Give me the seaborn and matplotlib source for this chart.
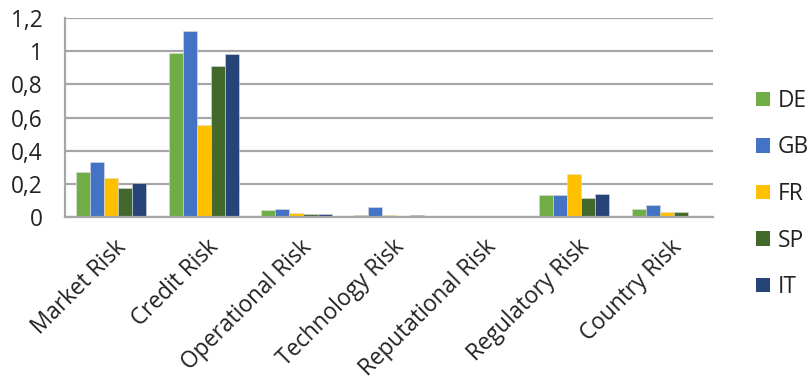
import matplotlib
matplotlib.use("Agg")
import matplotlib.pyplot as plt
import matplotlib.transforms as mtransforms
import seaborn as sns
import pandas as pd
import numpy as np
from matplotlib.ticker import FuncFormatter, FixedLocator

categories = ["Market Risk", "Credit Risk", "Operational Risk", "Technology Risk",
              "Reputational Risk", "Regulatory Risk", "Country Risk"]
DE = [0.27, 0.99, 0.045, 0.015, 0.009, 0.134, 0.047]
GB = [0.33, 1.12, 0.051, 0.063, 0.009, 0.130, 0.075]
FR = [0.233, 0.555, 0.025, 0.010, 0.005, 0.260, 0.031]
SP = [0.177, 0.911, 0.020, 0.006, 0.003, 0.116, 0.028]
IT = [0.207, 0.982, 0.020, 0.015, 0.001, 0.136, 0.009]
series_names = ["DE", "GB", "FR", "SP", "IT"]
colors = ["#70AD47", "#4472C4", "#FFC000", "#43682B", "#264478"]
yticks = [0, 0.2, 0.4, 0.6, 0.8, 1.0, 1.2]

rows = []
for name, vals in zip(series_names, [DE, GB, FR, SP, IT]):
    for c, v in zip(categories, vals):
        rows.append({"category": c, "country": name, "value": v})
df = pd.DataFrame(rows)

sns.set_style("white")
plt.rcParams["font.family"] = ["Open Sans", "DejaVu Sans"]
FS = 16.3

fig = plt.figure(figsize=(8.12, 3.85), dpi=100)
ax = fig.add_axes([65.0 / 812, 1 - 217 / 385, (713 - 65.0) / 812, (217 - 18) / 385])

sns.barplot(data=df, x="category", y="value", hue="country", order=categories,
            hue_order=series_names, palette=colors, saturation=1, width=0.76, ax=ax,
            edgecolor="#dcdcdc", linewidth=0.4, legend=True)

grid_c = "#A6A6A6"
ax.set_ylim(0, 1.2)
ax.set_xlim(-0.5, len(categories) - 0.5)
ax.set_yticks(yticks)
ax.yaxis.set_major_formatter(FuncFormatter(lambda v, p: ("%g" % round(v, 1)).replace(".", ",")))
ax.yaxis.grid(True, color=grid_c, linewidth=1.6)
ax.set_axisbelow(True)
for s in ["top", "right"]:
    ax.spines[s].set_visible(False)
for s in ["left", "bottom"]:
    ax.spines[s].set_color(grid_c)
    ax.spines[s].set_linewidth(1.6)

ax.tick_params(axis="y", length=6, width=1.4, color=grid_c, labelsize=FS, pad=10, labelcolor="#222222")
ax.tick_params(axis="x", which="major", length=0, labelsize=FS, pad=13, labelcolor="#222222")
ax.xaxis.set_minor_locator(FixedLocator(np.arange(-0.5, len(categories), 1.0)))
ax.tick_params(axis="x", which="minor", length=6, width=1.4, color=grid_c)
ax.set_xlabel("")
ax.set_ylabel("")
shift = mtransforms.ScaledTranslation(3 / 100, 0, fig.dpi_scale_trans)
for lab in ax.get_xticklabels():
    lab.set_rotation(45)
    lab.set_ha("right")
    lab.set_va("top")
    lab.set_rotation_mode("anchor")
    lab.set_transform(lab.get_transform() + shift)

ax.get_legend().remove()
handles, labels = ax.get_legend_handles_labels()
leg = fig.legend(handles, labels, loc="center left", bbox_to_anchor=(756 / 812, 1 - 194 / 385),
                 frameon=False, fontsize=FS, handlelength=0.6, handleheight=0.6,
                 handletextpad=0.35, labelspacing=1.0, borderpad=0, borderaxespad=0)
for h in leg.legend_handles:
    h.set_edgecolor("none")
for t in leg.get_texts():
    t.set_color("#222222")

fig.savefig("out.png", dpi=100)
